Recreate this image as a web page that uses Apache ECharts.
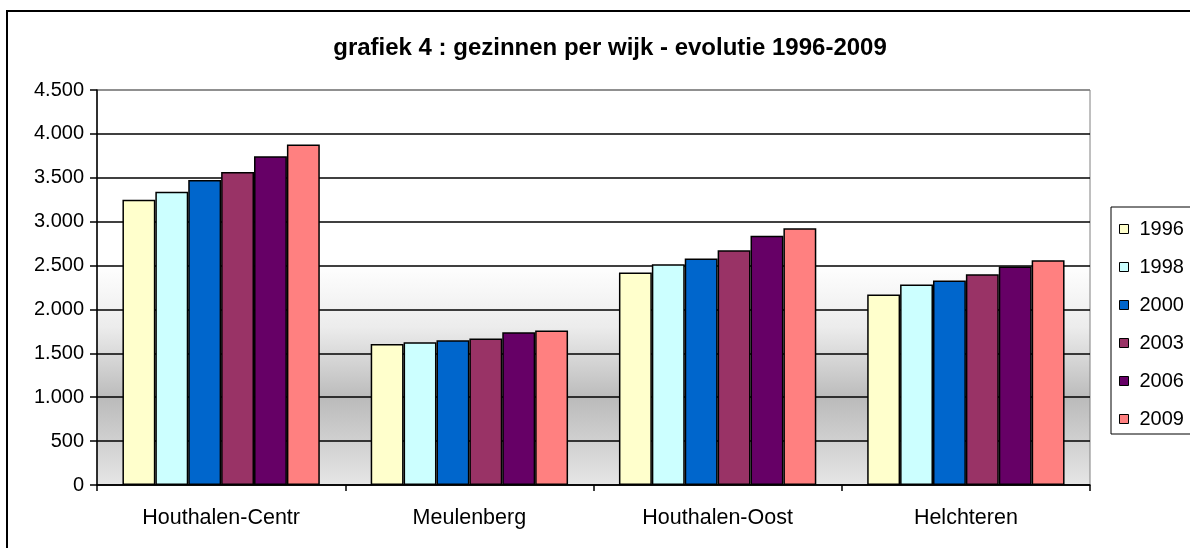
<!DOCTYPE html>
<html>
<head>
<meta charset="utf-8">
<script src="https://cdn.jsdelivr.net/npm/echarts@6/dist/echarts.min.js"></script>
<style>
html,body{margin:0;padding:0;background:#fff;}
#container{width:1190px;height:548px;}
</style>
</head>
<body>
<div id="container"></div>
<script>
// wijken en jaren
var categories = ['Houthalen-Centr', 'Meulenberg', 'Houthalen-Oost', 'Helchteren'];
var years = ['1996', '1998', '2000', '2003', '2006', '2009'];
var yearColors = ['#FFFFCC', '#CCFFFF', '#0066CC', '#993366', '#660066', '#FF8080'];

var data1996 = [3250, 1605, 2420, 2170];
var data1998 = [3340, 1625, 2515, 2285];
var data2000 = [3475, 1650, 2580, 2330];
var data2003 = [3565, 1670, 2675, 2400];
var data2006 = [3745, 1740, 2840, 2490];
var data2009 = [3880, 1760, 2925, 2560];
var allData = [data1996, data1998, data2000, data2003, data2006, data2009];

var fontFamily = 'Liberation Sans, Arial, sans-serif';

var seriess = [];
for (var i = 0; i < years.length; i++) {
	seriess.push({
		name: years[i],
		type: 'bar',
		data: allData[i],
		barGap: '0%',
		barCategoryGap: '20.5%',
		itemStyle: {color: yearColors[i], borderColor: '#000', borderWidth: 1.5}
	});
}

// rasterlijnen zwart, bovenste lijn grijs (rand plotgebied)
var gridColors = ['#000', '#000', '#000', '#000', '#000', '#000', '#000', '#000', '#000', '#808080'];

var chart = echarts.init(document.getElementById('container'));
var option = {
	animation: false,
	title: {
		text: 'grafiek 4 : gezinnen per wijk - evolutie 1996-2009',
		left: 605,
		top: 31,
		textAlign: 'center',
		textStyle: {fontFamily: fontFamily, fontSize: 24, fontWeight: 'bold', color: '#000'}
	},
	legend: {
		orient: 'vertical',
		left: 1111,
		top: 207,
		data: years,
		icon: 'rect',
		itemWidth: 9,
		itemHeight: 9,
		itemGap: 18,
		padding: [12, 20, 5, 8],
		borderColor: '#000',
		borderWidth: 1,
		itemStyle: {borderColor: '#000', borderWidth: 1},
		textStyle: {fontFamily: fontFamily, fontSize: 20, color: '#000', lineHeight: 20, padding: [0, 0, 0, 6]}
	},
	grid: {
		left: 97,
		right: 100,
		top: 90,
		bottom: 63,
		show: true,
		borderColor: '#808080',
		borderWidth: 1,
		backgroundColor: {
			type: 'linear', x: 0, y: 0, x2: 0, y2: 1,
			colorStops: [
				{offset: 0, color: '#ffffff'},
				{offset: 0.44, color: '#ffffff'},
				{offset: 0.6, color: '#ececec'},
				{offset: 0.78, color: '#bbbbbb'},
				{offset: 1, color: '#e6e6e6'}
			]
		}
	},
	xAxis: {
		type: 'category',
		data: categories,
		axisLine: {lineStyle: {color: '#000', width: 1.5}},
		axisTick: {show: true, length: 6, lineStyle: {color: '#000', width: 1.5}},
		axisLabel: {fontFamily: fontFamily, fontSize: 21.5, color: '#000', margin: 22}
	},
	yAxis: {
		type: 'value',
		min: 0,
		max: 4500,
		interval: 500,
		axisLine: {show: true, lineStyle: {color: '#000', width: 1.5}},
		axisTick: {show: true, length: 7, lineStyle: {color: '#000', width: 1.5}},
		axisLabel: {
			fontFamily: fontFamily, fontSize: 20, color: '#000', margin: 13,
			formatter: function (v) { return String(v).replace(/\B(?=(\d{3})+(?!\d))/g, '.'); }
		},
		splitLine: {lineStyle: {color: gridColors, width: 1.5}}
	},
	graphic: [{
		type: 'rect',
		shape: {x: 7, y: 11, width: 1300, height: 700},
		style: {fill: 'none', stroke: '#000', lineWidth: 2},
		silent: true
	}],
	series: seriess
};
chart.setOption(option);
</script>
</body>
</html>
